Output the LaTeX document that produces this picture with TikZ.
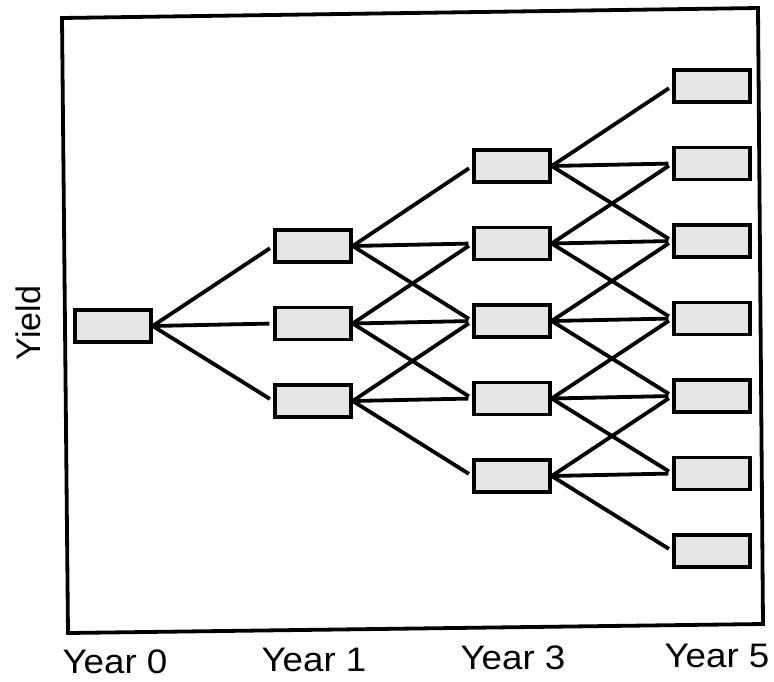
\documentclass[tikz,border=0pt]{standalone}
\usepackage{fontspec}
\setmainfont{Liberation Sans}
\newfontfamily\labfont[FakeStretch=1.08]{Liberation Sans}
\begin{document}
\begin{tikzpicture}[x=1pt,y=-1pt,
  cell/.style={draw=black, line width=3.4pt, fill=black!10, minimum width=76pt, minimum height=32pt, inner sep=0pt},
  link/.style={draw=black, line width=3.8pt, shorten >=4pt, line join=round},
  frame/.style={draw=black, line width=3.8pt, line join=miter},
  lab/.style={font=\labfont\fontsize{34}{36}\selectfont, inner sep=0pt},
  ylab/.style={font=\fontsize{34}{36}\selectfont, inner sep=0pt}]
\useasboundingbox (0,0) rectangle (774,681);
% frame
\draw[frame] (62,18) -- (758,8) -- (763,624) -- (68,633) -- cycle;
% nodes
\foreach \c/\x/\yc/\last in {0/113/326/0, 1/313/323.5/2, 2/512/321/4, 3/712/318.5/6} {
  \foreach \i in {0,...,\last} {
    \node[cell] (n\c-\i) at (\x, {\yc + 77.5*(\i - \last/2)}) {};
  }
}
% connectors
\foreach \c/\last in {0/0, 1/2, 2/4} {
  \pgfmathtruncatemacro\nc{\c+1}
  \foreach \i in {0,...,\last} {
    \foreach \d in {0,1,2} {
      \pgfmathtruncatemacro\j{\i+\d}
      \draw[link] (n\c-\i.east) -- (n\nc-\j.west);
    }
  }
}
% labels
\node[lab, anchor=base] (t0) at (115,673) {Year 0};
\node[lab, anchor=base] (t1) at (314,671) {Year 1};
\node[lab, anchor=base] (t3) at (513,669) {Year 3};
\node[lab, anchor=base] (t5) at (717,667) {Year 5};
\node[ylab, rotate=90] (ty) at (28,323) {Yield};
\end{tikzpicture}
\end{document}
